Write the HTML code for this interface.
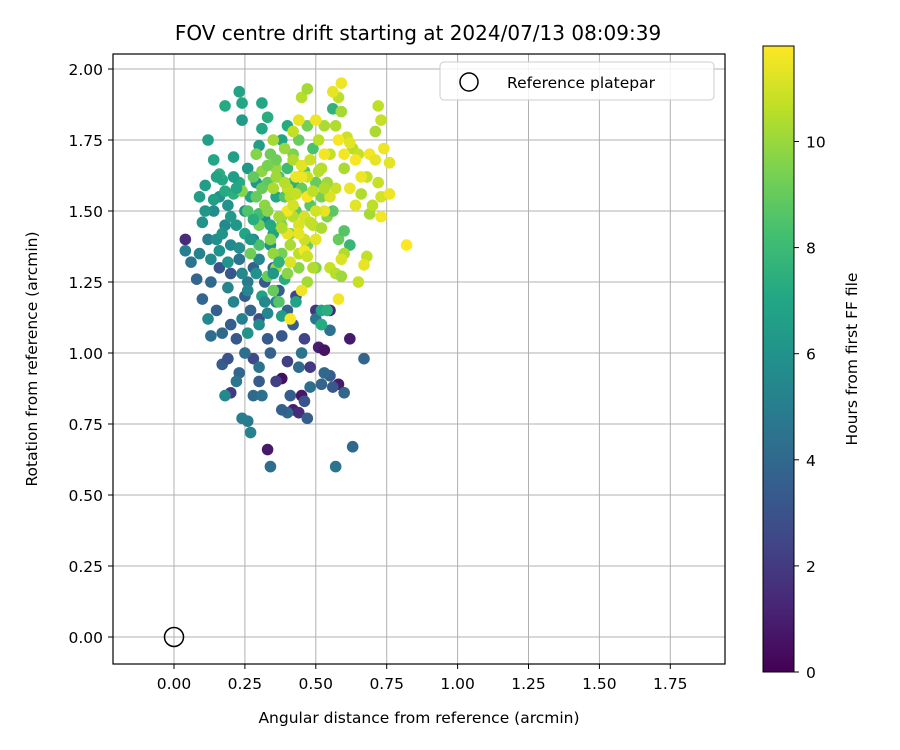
<!DOCTYPE html>
<html><head><meta charset="utf-8"><style>
body{margin:0;background:#fff;}
svg{display:block;font-family:"DejaVu Sans","Liberation Sans",sans-serif;}
</style></head><body>
<svg id="chart" width="900" height="750" viewBox="0 0 900 750">
<defs>
<linearGradient id="vir" x1="0" y1="1" x2="0" y2="0">
<stop offset="0" stop-color="#440154"/><stop offset="0.1" stop-color="#482475"/><stop offset="0.2" stop-color="#414487"/><stop offset="0.3" stop-color="#355f8d"/><stop offset="0.4" stop-color="#2a788e"/><stop offset="0.5" stop-color="#21918c"/><stop offset="0.6" stop-color="#22a884"/><stop offset="0.7" stop-color="#44bf70"/><stop offset="0.8" stop-color="#7ad151"/><stop offset="0.9" stop-color="#bddf26"/><stop offset="1" stop-color="#fde725"/>
</linearGradient>
<clipPath id="pc"><rect x="113" y="54" width="612" height="610"/></clipPath>
</defs>
<text x="418" y="40" font-size="20" text-anchor="middle">FOV centre drift starting at 2024/07/13 08:09:39</text>
<g id="grid"></g>
<g id="pts" clip-path="url(#pc)"></g>
<rect x="113" y="54" width="612" height="610" fill="none" stroke="#000" stroke-width="1.2"/>
<g id="ticks"></g>
<text x="419" y="723" font-size="15.5" text-anchor="middle">Angular distance from reference (arcmin)</text>
<text transform="translate(37,359) rotate(-90)" font-size="15.5" text-anchor="middle">Rotation from reference (arcmin)</text>
<g>
<rect x="440" y="62" width="274" height="38" rx="4" fill="#fff" fill-opacity="0.85" stroke="#ccc"/>
<circle cx="469" cy="82" r="9" fill="none" stroke="#000" stroke-width="1.5"/>
<text x="507" y="88" font-size="15.5">Reference platepar</text>
</g>
<rect x="763" y="46" width="31" height="626" fill="url(#vir)" stroke="#000" stroke-width="1"/>
<g id="cbt"></g>
<text transform="translate(857,359) rotate(-90)" font-size="15.5" text-anchor="middle">Hours from first FF file</text>
</svg>
<script>
const xTicks=[0,0.25,0.5,0.75,1.0,1.25,1.5,1.75];
const yTicks=[0,0.25,0.5,0.75,1.0,1.25,1.5,1.75,2.0];
const cTicks=[0,2,4,6,8,10];
const refPoint=[0,0];
const xs=[0.04,0.33,0.38,0.45,0.51,0.53,0.58,0.62,0.55,0.42,0.44,0.20,0.36,0.48,0.50,0.43,0.28,0.30,0.46,0.40,
0.57,0.63,0.34,0.67,0.60,0.55,0.52,0.56,0.46,0.47,0.40,0.38,0.41,0.30,0.28,0.31,0.26,0.24,0.27,0.17,0.19,0.23,0.22,0.20,0.17,0.13,0.15,0.10,0.13,0.08,0.06,0.04,0.16,0.20,0.25,0.27,0.33,0.34,0.38,0.42,0.40,0.37,0.32,0.28,0.35,0.44,0.48,0.53,0.55,0.50,0.25,0.30,0.22,0.18,0.12,0.09,0.12,0.23,0.26,0.45,
0.10,0.09,0.11,0.12,0.16,0.14,0.18,0.23,0.24,0.24,0.21,0.17,0.19,0.14,0.18,0.15,0.20,0.22,0.25,0.27,0.23,0.26,0.30,0.31,0.33,0.31,0.29,0.32,0.28,0.34,0.30,0.24,0.19,0.36,0.33,0.30,0.26,0.38,0.43,0.52,0.54,0.52,0.21,0.16,0.38,0.40,0.36,0.42,0.56,0.62,0.39,0.35,
0.26,0.29,0.30,0.33,0.34,0.37,0.40,0.39,0.43,0.45,0.42,0.44,0.47,0.46,0.49,0.50,0.48,0.52,0.54,0.56,0.58,0.60,0.47,0.41,0.38,0.35,0.37,0.40,0.44,0.50,0.33,0.30,0.27,0.24,0.31,0.36,0.29,
0.35,0.42,0.45,0.47,0.51,0.53,0.55,0.57,0.58,0.59,0.61,0.63,0.65,0.66,0.69,0.70,0.72,0.73,0.68,0.60,0.57,0.54,0.52,0.49,0.46,0.44,0.41,0.36,0.42,0.38,0.40,0.55,0.57,0.60,0.59,0.65,0.68,0.73,0.72,0.71,0.47,0.49,
0.59,0.56,0.60,0.62,0.64,0.66,0.69,0.71,0.74,0.76,0.76,0.73,0.82,0.67,0.59,0.58,0.41,0.45,0.46,0.50,0.53,0.55,0.47,0.43,0.40,0.44,0.50,0.53,0.58,0.62,0.64,
0.32,0.35,0.38,0.41,0.44,0.47,0.50,0.53,0.36,0.39,0.42,0.45,0.48,0.51,0.34,0.37,0.40,0.43,0.46,0.49,0.52,0.31,0.33,0.36,0.39,0.42,0.45,0.48,0.35,0.38,0.41,0.44,0.47,0.28,0.30,0.33,
0.11,0.14,0.17,0.20,0.22,0.15,0.18,0.21,0.25,0.28,0.13,0.16,0.19,0.23,0.27,0.31,0.34,0.37,0.29,0.32,0.35,0.26,0.24,0.21];
const ys=[1.40,0.66,0.91,0.85,1.02,1.01,0.89,1.05,1.15,0.80,0.79,0.86,0.90,0.95,1.15,1.20,0.98,1.12,1.05,0.97,
0.60,0.67,0.60,0.98,0.86,0.92,0.89,0.88,0.83,0.77,0.79,0.80,0.85,0.90,0.85,0.85,0.76,0.77,0.72,0.96,0.98,0.93,1.05,1.10,1.07,1.06,1.15,1.19,1.25,1.26,1.32,1.36,1.30,1.28,1.20,1.15,1.05,1.00,1.06,1.10,1.15,1.22,1.25,1.30,1.30,0.95,0.88,0.93,1.08,1.12,1.00,0.95,0.90,0.85,1.12,1.35,1.40,1.33,1.25,1.00,
1.46,1.55,1.59,1.75,1.55,1.68,1.87,1.92,1.88,1.82,1.69,1.61,1.52,1.50,1.45,1.40,1.38,1.45,1.50,1.55,1.60,1.65,1.73,1.79,1.83,1.88,1.60,1.47,1.40,1.38,1.33,1.28,1.23,1.18,1.14,1.10,1.07,1.13,1.18,1.15,1.15,1.10,1.56,1.63,1.75,1.80,1.55,1.60,1.86,1.38,1.26,1.42,
1.50,1.55,1.49,1.60,1.70,1.62,1.65,1.55,1.50,1.58,1.70,1.75,1.80,1.64,1.72,1.60,1.52,1.55,1.48,1.50,1.40,1.43,1.38,1.42,1.35,1.22,1.18,1.28,1.30,1.30,1.27,1.38,1.35,1.57,1.64,1.65,1.70,
1.75,1.68,1.90,1.93,1.75,1.80,1.70,1.80,1.90,1.85,1.76,1.72,1.70,1.56,1.49,1.52,1.60,1.55,1.62,1.65,1.58,1.60,1.65,1.45,1.40,1.35,1.38,1.30,1.48,1.48,1.58,1.30,1.28,1.35,1.27,1.25,1.34,1.82,1.87,1.78,1.25,1.30,
1.95,1.92,1.70,1.74,1.68,1.62,1.70,1.68,1.72,1.67,1.56,1.48,1.38,1.31,1.33,1.19,1.12,1.22,1.36,1.40,1.50,1.55,1.55,1.62,1.50,1.82,1.82,1.70,1.75,1.58,1.52,
1.52,1.58,1.45,1.55,1.45,1.62,1.50,1.58,1.68,1.72,1.78,1.66,1.68,1.64,1.40,1.48,1.42,1.56,1.48,1.57,1.44,1.58,1.66,1.62,1.60,1.52,1.62,1.46,1.35,1.44,1.32,1.42,1.34,1.62,1.45,1.50,
1.50,1.54,1.42,1.48,1.58,1.62,1.57,1.62,1.42,1.47,1.33,1.36,1.32,1.37,1.40,1.20,1.45,1.32,1.28,1.18,1.28,1.22,1.12,1.18];
const hours=[1.5,0.8,0.5,0.7,1.0,0.6,0.9,0.8,1.2,1.0,1.5,2.0,2.2,2.0,1.8,2.5,2.6,2.8,2.4,2.2,
4.5,4.0,4.2,3.8,3.8,3.5,3.8,3.2,3.0,3.5,4.0,3.6,3.5,3.4,4.0,4.4,4.8,5.0,5.2,3.5,3.0,3.8,3.2,3.5,4.0,4.2,3.6,3.8,4.0,3.8,4.5,5.0,3.0,3.2,3.5,3.8,3.3,3.7,3.2,3.5,3.9,3.6,3.3,3.6,4.2,4.1,4.3,4.0,4.4,4.6,4.3,4.5,4.6,5.5,5.5,5.2,5.0,4.6,4.8,4.5,
6.0,6.5,6.5,6.6,6.0,7.0,7.2,6.8,7.0,6.4,6.6,7.1,6.0,5.7,5.5,5.8,5.5,6.2,6.0,6.8,7.2,6.2,6.5,7.0,7.3,7.0,6.2,5.8,5.5,6.0,5.4,5.5,5.3,5.2,5.4,5.6,6.0,6.5,6.8,7.0,7.4,7.2,7.5,7.4,6.8,7.2,7.0,7.5,7.6,7.8,7.3,6.8,
8.5,9.0,8.2,8.8,9.2,8.4,8.0,8.6,8.8,9.0,9.5,9.1,9.3,8.5,8.4,9.0,8.7,9.4,9.6,8.8,9.0,8.6,9.2,9.5,9.3,9.0,8.6,9.7,9.8,9.5,9.0,8.4,9.2,9.6,9.8,10.0,9.6,
10.2,10.4,10.5,10.2,10.6,10.3,10.8,10.4,10.6,10.2,10.9,10.5,10.8,10.4,10.2,10.6,10.8,11.0,10.7,10.3,10.9,10.1,10.5,10.7,10.9,10.6,10.3,10.0,10.5,10.2,10.7,10.8,10.5,10.4,10.1,10.8,10.7,10.8,10.6,10.3,10.2,10.4,
11.5,11.4,11.6,11.3,11.7,11.5,11.6,11.4,11.5,11.3,11.5,11.6,11.8,11.4,11.2,11.6,11.8,11.5,11.6,11.3,11.4,11.2,11.7,11.5,11.6,11.4,11.5,11.6,11.7,11.5,11.3,
9.8,10.3,9.5,10.6,11.2,10.8,11.0,10.4,9.2,10.0,10.7,11.3,10.9,10.5,9.6,10.2,11.4,10.8,11.1,10.6,10.3,9.0,9.4,10.1,10.5,11.0,11.5,10.7,9.9,10.4,11.2,11.4,10.9,8.9,9.3,9.7,
6.2,6.6,6.0,6.4,7.0,6.8,7.2,6.5,6.9,7.4,5.6,5.9,6.1,5.8,6.3,6.7,7.1,7.6,5.9,5.5,6.2,5.4,5.1,5.3];
const NS='http://www.w3.org/2000/svg';
const X0=174,XS=283.6,Y0=637,YS=284,CMAX=11.8;
const xAxis=v=>X0+v*XS, yAxis=v=>Y0-v*YS, cAxis=v=>672-v/CMAX*626;
const stops=['#440154','#482475','#414487','#355f8d','#2a788e','#21918c','#22a884','#44bf70','#7ad151','#bddf26','#fde725'];
function hx(c){return [1,3,5].map(i=>parseInt(c.substr(i,2),16));}
function viridis(t){t=Math.max(0,Math.min(1,t))*10;const i=Math.min(9,Math.floor(t)),f=t-i;const a=hx(stops[i]),b=hx(stops[i+1]);return 'rgb('+a.map((v,k)=>Math.round(v+(b[k]-v)*f)).join(',')+')';}
function mk(tag,attrs,parent){const e=document.createElementNS(NS,tag);for(const k in attrs)e.setAttribute(k,attrs[k]);parent.appendChild(e);return e;}
const grid=document.getElementById('grid'),ticks=document.getElementById('ticks'),pts=document.getElementById('pts'),cbt=document.getElementById('cbt');
xTicks.forEach(v=>{const x=xAxis(v);
 const g=mk('line',{x1:x,x2:x,y1:54,y2:664,stroke:'#b0b0b0','stroke-width':1},grid);
 
 
 mk('line',{x1:x,x2:x,y1:664,y2:669,stroke:'#000'},ticks);
 const t=mk('text',{x:x,y:689,'font-size':15.5,'text-anchor':'middle'},ticks);t.textContent=v.toFixed(2);
 
 });
yTicks.forEach(v=>{const y=yAxis(v);
 const g=mk('line',{x1:113,x2:725,y1:y,y2:y,stroke:'#b0b0b0','stroke-width':1},grid);
 
 
 mk('line',{x1:108,x2:113,y1:y,y2:y,stroke:'#000'},ticks);
 const t=mk('text',{x:103,y:y+6,'font-size':15.5,'text-anchor':'end'},ticks);t.textContent=v.toFixed(2);
 
 });
cTicks.forEach(v=>{const y=cAxis(v);
 mk('line',{x1:794,x2:799,y1:y,y2:y,stroke:'#000'},cbt);
 const t=mk('text',{x:806,y:y+6,'font-size':15.5},cbt);t.textContent=v;
 
 });
xs.forEach((v,i)=>{const c=mk('circle',{cx:xAxis(v),cy:yAxis(ys[i]),r:5.8,fill:viridis(hours[i]/CMAX)},pts);
 
 });
const r=mk('circle',{cx:xAxis(refPoint[0]),cy:yAxis(refPoint[1]),r:9.5,fill:'none',stroke:'#000','stroke-width':1.5},pts);


</script>
</body></html>
